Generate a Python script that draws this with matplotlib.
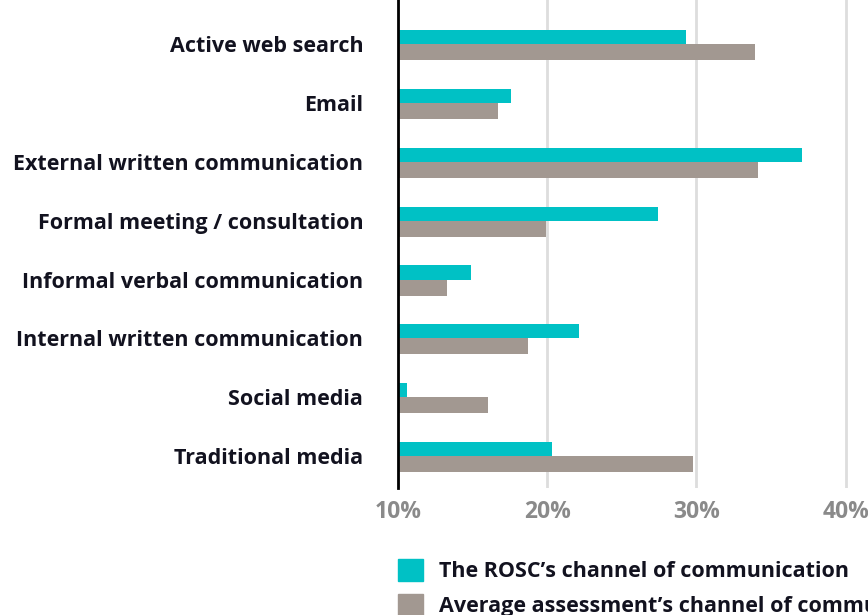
import matplotlib.pyplot as plt
from matplotlib.patches import Patch

categories = ['Active web search', 'Email', 'External written communication',
              'Formal meeting / consultation', 'Informal verbal communication',
              'Internal written communication', 'Social media', 'Traditional media']
rosc = [29.3, 17.6, 37.1, 27.4, 14.9, 22.1, 10.6, 20.3]
average = [33.9, 16.7, 34.1, 19.9, 13.3, 18.7, 16.0, 29.8]
ticks = [10, 20, 30, 40]
tick_labels = ['10%', '20%', '30%', '40%']
series_names = ["The ROSC\u2019s channel of communication",
                "Average assessment\u2019s channel of communication"]

teal = '#00c1c5'
grey = '#a29891'
dark = '#12121f'

plt.rcParams['font.family'] = ['Open Sans', 'DejaVu Sans']
plt.rcParams['font.weight'] = 'bold'

fig = plt.figure(figsize=(8.68, 6.15), dpi=100)
ax = fig.add_axes([398 / 868, 1 - 488 / 615, 1 - 398 / 868, 488 / 615])

y = list(range(len(categories)))
ax.barh([i - 0.12 for i in y], rosc, height=0.24, color=teal, zorder=3)
ax.barh([i + 0.13 for i in y], average, height=0.28, color=grey, zorder=2)

ax.set_xlim(10, 41.5)
ax.set_ylim(7.54, -0.75)
ax.set_yticks(y)
ax.set_yticklabels(categories, fontsize=15.5, color=dark, fontweight='bold')
ax.set_xticks(ticks)
ax.set_xticklabels(tick_labels, fontsize=16.5, color='#8a8a8a', fontweight='bold')
ax.tick_params(axis='y', length=0, pad=25)
ax.tick_params(axis='x', length=0, pad=9)
ax.grid(axis='x', color='#dddddd', linewidth=2, zorder=0)
for s in ['top', 'right', 'bottom']:
    ax.spines[s].set_visible(False)
ax.spines['left'].set_color('black')
ax.spines['left'].set_linewidth(2)
ax.spines['left'].set_zorder(4)

handles = [Patch(color=teal), Patch(color=grey)]
fig.legend(handles, series_names, loc='upper left',
           bbox_to_anchor=(379 / 868, 1 - 540 / 615), frameon=False,
           prop={'size': 15.5, 'weight': 'bold'}, labelcolor=dark,
           handlelength=1.15, handleheight=1.15, labelspacing=0.55, handletextpad=0.75)

fig.savefig('out.png', dpi=100)
